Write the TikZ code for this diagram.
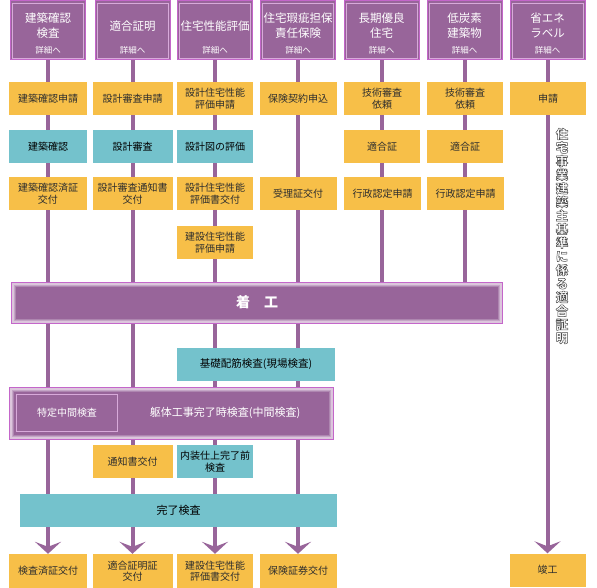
\documentclass[tikz,border=0pt]{standalone}
\usepackage{fontspec}
\setmainfont{Noto Sans CJK JP}
\usetikzlibrary{arrows.meta,backgrounds}
\definecolor{purp}{HTML}{98659A}
\definecolor{orchid}{HTML}{C466CA}
\definecolor{lav}{HTML}{DCC6DC}
\definecolor{lavb}{HTML}{C4A6C6}
\definecolor{lavc}{HTML}{AE86B0}
\definecolor{org}{HTML}{F7BF48}
\definecolor{teal2}{HTML}{74C2CC}
\definecolor{txt}{HTML}{2E2E2E}
\definecolor{inbd}{HTML}{D8AADA}
\newcommand\myvtext{住\\宅\\事\\業\\建\\築\\主\\基\\準\\に\\係\\る\\適\\合\\証\\明}
\newcommand\outlineon{\special{pdf:literal direct 2 Tr 0.5 w 1 j 0.3 0.3 0.3 RG}}
\newcommand\outlineoff{\special{pdf:literal direct 0 Tr}}
\tikzset{
 hdr/.style={draw=orchid, line width=1pt, fill=purp, minimum width=75pt, minimum height=59pt, inner sep=0},
 htxt/.style={text=white, font=\fontsize{11.5}{15}\selectfont, align=center, inner sep=0},
 dtxt/.style={text=white, font=\fontsize{8.5}{10}\selectfont, inner sep=0},
 obox/.style={fill=org, minimum height=33pt, inner sep=0, align=center, text=txt, font=\fontsize{10}{11.5}\selectfont},
 tbox/.style={obox, fill=teal2, text=black},
 barbox/.style={draw=orchid, line width=1pt, fill=lav, inner sep=0},
 vline/.style={draw=purp, line width=4pt},
 varrow/.style={vline, -{Stealth[length=12pt,width=26pt,inset=5pt]}},
 vt/.style={align=center, inner sep=0, font=\fontsize{12.5}{13.6}\selectfont\bfseries},
 wtxt/.style={text=white, inner sep=0, font=\fontsize{11}{13}\selectfont},
}
\begin{document}
\begin{tikzpicture}[x=1pt,y=-1pt]
\useasboundingbox (0,0) rectangle (597,588);
% headers
\node[hdr] (h1) at (48,30.5) {};
\node[hdr] (h2) at (132.5,30.5) {};
\node[hdr] (h3) at (215,30.5) {};
\node[hdr] (h4) at (298,30.5) {};
\node[hdr] (h5) at (381.5,30.5) {};
\node[hdr] (h6) at (464.5,30.5) {};
\node[hdr] (h7) at (547.5,30.5) {};
\foreach \i in {1,...,7}
  \draw[inbd, line width=0.8pt] ([xshift=2.5pt,yshift=-2.5pt]h\i.north west) rectangle ([xshift=-2.5pt,yshift=2.5pt]h\i.south east);
\node[htxt] (ht1) at (48,25.5) {建築確認\\検査};
\node[htxt] (ht2) at (132.5,26) {適合証明};
\node[htxt] (ht3) at (215,26) {住宅性能評価};
\node[htxt] (ht4) at (298,25.5) {住宅瑕疵担保\\責任保険};
\node[htxt] (ht5) at (381.5,25.5) {長期優良\\住宅};
\node[htxt] (ht6) at (464.5,25.5) {低炭素\\建築物};
\node[htxt] (ht7) at (547.5,25.5) {省エネ\\ラベル};
\foreach \i/\x in {1/48,2/132.5,3/215,4/298,5/381.5,6/464.5,7/547.5}
  \node[dtxt] (hd\i) at (\x,50) {詳細へ};
% row 1
\node[obox, minimum width=78pt] (a1) at (48,98.5) {建築確認申請};
\node[obox, minimum width=80pt] (a2) at (132.5,98.5) {設計審査申請};
\node[obox, minimum width=76pt] (a3) at (215,98.5) {設計住宅性能\\評価申請};
\node[obox, minimum width=77pt] (a4) at (298,98.5) {保険契約申込};
\node[obox, minimum width=76pt] (a5) at (382,98.5) {技術審査\\依頼};
\node[obox, minimum width=76pt] (a6) at (465,98.5) {技術審査\\依頼};
\node[obox, minimum width=76pt] (a7) at (548,98.5) {申請};
% row 2
\node[tbox, minimum width=78pt] (r1) at (48,146.5) {建築確認};
\node[tbox, minimum width=80pt] (r2) at (132.5,146.5) {設計審査};
\node[tbox, minimum width=76pt] (r3) at (215,146.5) {設計図の評価};
\node[obox, minimum width=76pt] (r5) at (382,146.5) {適合証};
\node[obox, minimum width=76pt] (r6) at (465,146.5) {適合証};
% row 3
\node[obox, minimum width=78pt] (s1) at (48,193.5) {建築確認済証\\交付};
\node[obox, minimum width=80pt] (s2) at (132.5,193.5) {設計審査通知書\\交付};
\node[obox, minimum width=76pt] (s3) at (215,193.5) {設計住宅性能\\評価書交付};
\node[obox, minimum width=77pt] (s4) at (298,193.5) {受理証交付};
\node[obox, minimum width=77pt] (s5) at (382.5,193.5) {行政認定申請};
\node[obox, minimum width=77pt] (s6) at (465.5,193.5) {行政認定申請};
% row 4
\node[obox, minimum width=76pt] (u3) at (215,242.5) {建設住宅性能\\評価申請};
% chakko bar
\node[barbox, minimum width=491pt, minimum height=41pt] (chakko) at (256.5,302.5) {};
\fill[lavb] ([xshift=3pt,yshift=-3pt]chakko.north west) rectangle ([xshift=-3pt,yshift=3pt]chakko.south east);
\fill[lavc] ([xshift=4pt,yshift=-4pt]chakko.north west) rectangle ([xshift=-4pt,yshift=4pt]chakko.south east);
\fill[purp] ([xshift=5pt,yshift=-5pt]chakko.north west) rectangle ([xshift=-5pt,yshift=5pt]chakko.south east);
\node[text=white, inner sep=0, font=\fontsize{14}{16}\selectfont\bfseries] (chakkoT) at (257,302.5) {着　工};
% kiso
\node[tbox, minimum width=158pt, font=\fontsize{10.5}{12}\selectfont] (kiso) at (256,364.5) {基礎配筋検査(現場検査)};
% chukan bar
\node[barbox, minimum width=324pt, minimum height=52pt] (chukan) at (171,413) {};
\fill[lavb] ([xshift=3pt,yshift=-3pt]chukan.north west) rectangle ([xshift=-3pt,yshift=3pt]chukan.south east);
\fill[lavc] ([xshift=4pt,yshift=-4pt]chukan.north west) rectangle ([xshift=-4pt,yshift=4pt]chukan.south east);
\fill[purp] ([xshift=5pt,yshift=-5pt]chukan.north west) rectangle ([xshift=-5pt,yshift=5pt]chukan.south east);
\node[draw=inbd, line width=1pt, fill=purp, minimum width=101pt, minimum height=37pt, inner sep=0, text=white, font=\fontsize{10}{12}\selectfont] (tokutei) at (67,413) {特定中間検査};
\node[wtxt] (kutai) at (225,413) {躯体工事完了時検査(中間検査)};
% lower boxes
\node[obox, minimum width=80pt] (t2) at (132.5,461.5) {通知書交付};
\node[tbox, minimum width=76pt] (t3) at (215,461.5) {内装仕上完了前\\検査};
\node[tbox, minimum width=317pt, font=\fontsize{11}{13}\selectfont] (kanryo) at (178.5,510.5) {完了検査};
% bottom
\node[obox, minimum width=78pt, minimum height=34pt] (b1) at (48,571) {検査済証交付};
\node[obox, minimum width=80pt, minimum height=34pt] (b2) at (132.5,571) {適合証明証\\交付};
\node[obox, minimum width=76pt, minimum height=34pt] (b3) at (215,571) {建設住宅性能\\評価書交付};
\node[obox, minimum width=77pt, minimum height=34pt] (b4) at (298,571) {保険証券交付};
\node[obox, minimum width=76pt, minimum height=33pt] (b7) at (547.5,570) {竣工};
% vertical text (white with dark outline)
\node[vt, text=white] (vtext) at (562,236) {\outlineon\myvtext\outlineoff};
% connectors
\begin{pgfonlayer}{background}
\draw[varrow] (h1.south) -- (b1.north);
\draw[varrow] (h2.south) -- (b2.north);
\draw[varrow] (h3.south) -- (b3.north);
\draw[varrow] (h4.south) -- (b4.north);
\draw[vline] (h5.south) -- (h5.south |- chakko.center);
\draw[vline] (h6.south) -- (h6.south |- chakko.center);
\draw[varrow] (h7.south) -- (b7.north);
\end{pgfonlayer}
\end{tikzpicture}
\end{document}
